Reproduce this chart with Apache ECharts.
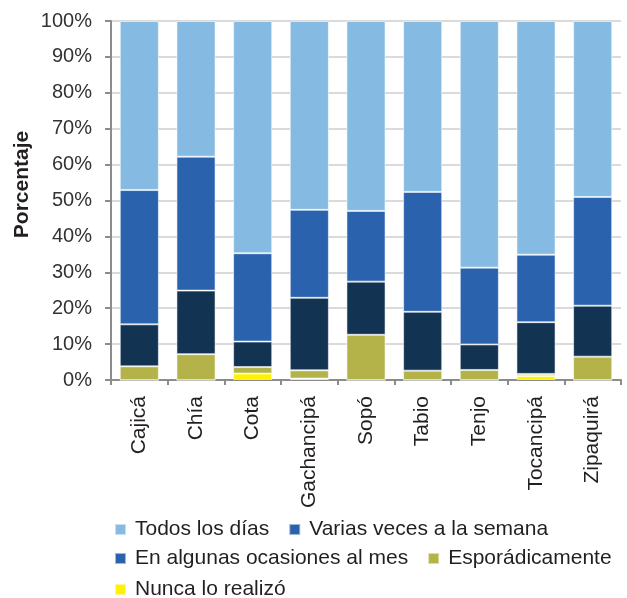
<!DOCTYPE html>
<html>
<head>
<meta charset="utf-8">
<script src="https://cdn.jsdelivr.net/npm/echarts@6/dist/echarts.min.js"></script>
<style>
  html, body { margin: 0; padding: 0; background: #fff; }
  #chart { width: 627px; height: 598px; }
</style>
</head>
<body>
<div id="chart"></div>
<script>
const municipios = ["Cajicá", "Chía", "Cota", "Gachancipá", "Sopó", "Tabio", "Tenjo", "Tocancipá", "Zipaquirá"];

// percentages, stacked from the bottom
const nunca = [0, 0, 1.8, 0.4, 0, 0, 0, 1.1, 0];
const esporadicamente = [3.8, 7.2, 1.8, 2.3, 12.6, 2.6, 2.8, 0.6, 6.5];
const algunasMes = [11.7, 17.7, 7.1, 20.2, 14.8, 16.4, 7.1, 14.4, 14.2];
const variasSemana = [37.4, 37.3, 24.6, 24.5, 19.7, 33.4, 21.4, 18.8, 30.3];
const todosDias = [47.1, 37.8, 64.7, 52.6, 52.9, 47.6, 68.7, 65.1, 49.0];

const yTicks = [0, 10, 20, 30, 40, 50, 60, 70, 80, 90, 100];

let chartDom = document.getElementById("chart");
let myChart = echarts.init(chartDom);
let font = "Liberation Sans";
let textColor = "#231f20";

function barSeries(name, data, color) {
  return {
    name: name,
    type: "bar",
    stack: "total",
    data: data,
    barCategoryGap: "31%",
    itemStyle: {
      color: color,
      borderColor: "rgba(255,255,255,0.55)",
      borderWidth: 1,
    },
  };
}

function legendRow(items, top) {
  return {
    left: 114,
    top: top,
    padding: 0,
    itemWidth: 11,
    itemHeight: 11,
    itemGap: 19,
    icon: "rect",
    textStyle: {
      fontFamily: font,
      fontSize: 21,
      color: textColor,
      padding: [0, 0, 0, 4],
    },
    data: items,
  };
}

let option = {
  animation: false,
  grid: {
    left: 111,
    right: 6,
    top: 21,
    bottom: 218,
  },
  xAxis: {
    type: "category",
    data: municipios,
    axisLine: { lineStyle: { color: "#8c8c8c", width: 2 } },
    axisTick: { show: true, length: 5, lineStyle: { color: "#8c8c8c", width: 2 } },
    axisLabel: {
      rotate: 90,
      margin: 16,
      fontFamily: font,
      fontSize: 21,
      color: textColor,
    },
  },
  yAxis: {
    type: "value",
    min: yTicks[0],
    max: yTicks[yTicks.length - 1],
    interval: 10,
    name: "Porcentaje",
    nameLocation: "middle",
    nameGap: 78,
    nameMoveOverlap: false,
    nameRotate: 90,
    nameTextStyle: {
      fontFamily: font,
      fontSize: 21,
      fontWeight: "bold",
      color: textColor,
      padding: [0, 0, 0, 32],
    },
    axisLine: { show: true, lineStyle: { color: "#8c8c8c", width: 2 } },
    axisTick: { show: true, length: 6, lineStyle: { color: "#8c8c8c", width: 2 } },
    splitLine: { show: true, lineStyle: { color: "#dadada", width: 2 } },
    axisLabel: {
      formatter: "{value}%",
      margin: 19,
      fontFamily: font,
      fontSize: 20,
      color: "#333",
    },
  },
  legend: [
    legendRow(["Todos los días", "Varias veces a la semana"], 519),
    legendRow(
      [
        { name: "En algunas ocasiones al mes", itemStyle: { color: "#2a62ad" } },
        "Esporádicamente",
      ],
      548
    ),
    legendRow(["Nunca lo realizó"], 579),
  ],
  series: [
    barSeries("Nunca lo realizó", nunca, "#fff200"),
    barSeries("Esporádicamente", esporadicamente, "#b3b34a"),
    barSeries("En algunas ocasiones al mes", algunasMes, "#123351"),
    barSeries("Varias veces a la semana", variasSemana, "#2a62ad"),
    barSeries("Todos los días", todosDias, "#85bbe3"),
  ],
};

myChart.setOption(option);
</script>
</body>
</html>
